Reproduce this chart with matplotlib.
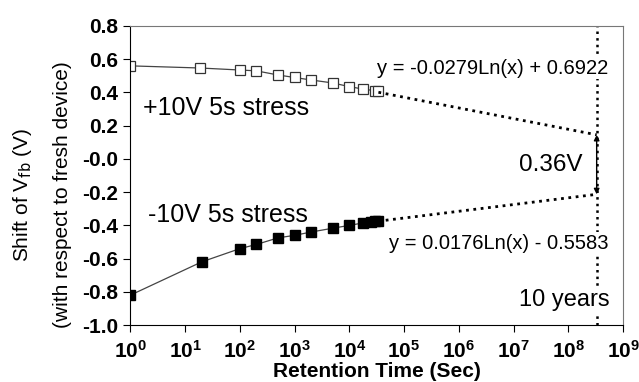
import matplotlib
matplotlib.use("Agg")
import matplotlib.pyplot as plt
import numpy as np

plt.rcParams['font.family'] = ['Liberation Sans', 'DejaVu Sans']

# +10V stress (open squares)
t_pos = [1, 19, 100, 200, 500, 1000, 2000, 5000, 10000, 18000, 30000, 34000]
v_pos = [0.56, 0.547, 0.535, 0.53, 0.505, 0.49, 0.475, 0.457, 0.435, 0.42, 0.41, 0.408]
# -10V stress (filled squares)
t_neg = [1, 20, 100, 200, 500, 1000, 2000, 5000, 10000, 18000, 25000, 30000, 34000]
v_neg = [-0.82, -0.62, -0.54, -0.515, -0.475, -0.46, -0.44, -0.417, -0.40, -0.385, -0.38, -0.375, -0.372]

# log fits from the figure
fit_pos = (-0.0279, 0.6922)
fit_neg = (0.0176, -0.5583)
t_10y = 3.3e8

fig = plt.figure(figsize=(6.39, 3.82), dpi=100)
ax = fig.add_axes([0.204, 0.149, 0.771, 0.783])

ax.plot(t_pos, v_pos, '-', color='#444444', lw=0.9, marker='s', ms=7,
        mfc='white', mec='#333333', mew=0.9)
ax.plot(t_neg, v_neg, '-', color='#444444', lw=0.9, marker='s', ms=7,
        mfc='black', mec='black')

# extrapolation
for t_data, (a, b) in [(t_pos, fit_pos), (t_neg, fit_neg)]:
    tt = np.array([t_data[-1], t_10y])
    ax.plot(tt, a * np.log(tt) + b, ':', color='black', lw=2)

y_top = fit_pos[0] * np.log(t_10y) + fit_pos[1]
y_bot = fit_neg[0] * np.log(t_10y) + fit_neg[1]
ax.plot([t_10y, t_10y], [-1.0, 0.8], ':', color='black', lw=1.8, zorder=1)
ax.annotate('', xy=(t_10y, y_top), xytext=(t_10y, y_bot),
            arrowprops=dict(arrowstyle='<|-|>', color='black', lw=1,
                            mutation_scale=8, shrinkA=0, shrinkB=0))

ax.text(1.7, 0.305, '+10V 5s stress', fontsize=18, va='center')
ax.text(2.1, -0.338, '-10V 5s stress', fontsize=18, va='center')
ax.text(5.3e8, 0.547, 'y = -0.0279Ln(x) + 0.6922', fontsize=14.5, ha='right', va='center',
        bbox=dict(fc='white', ec='none', pad=1))
ax.text(1.85e8, -0.037, '0.36V', fontsize=17.5, ha='right', va='center')
ax.text(5.5e8, -0.507, 'y = 0.0176Ln(x) - 0.5583', fontsize=14.5, ha='right', va='center',
        bbox=dict(fc='white', ec='none', pad=1))
ax.text(5.6e8, -0.85, '10 years', fontsize=17, ha='right', va='center',
        bbox=dict(fc='white', ec='none', pad=1))

ax.set_xscale('log')
ax.set_xlim(1, 1e9)
ax.set_ylim(-1.0, 0.8)
ax.set_xticks([10.0 ** k for k in range(10)])
ax.minorticks_off()
ax.set_yticks(np.arange(-1.0, 0.81, 0.2))
ax.set_yticklabels(['%.1f' % v for v in np.arange(-1.0, 0.81, 0.2)])
ax.tick_params(direction='out', length=5, labelsize=15, top=False, right=False)
ax.tick_params(axis='x', pad=6)
for lab in ax.get_xticklabels() + ax.get_yticklabels():
    lab.set_fontweight('bold')
for s in ['top', 'right']:
    ax.spines[s].set_color('#777777')

ax.set_xlabel('Retention Time (Sec)', fontsize=15, fontweight='bold', labelpad=0)
fig.text(0.035, 0.49, 'Shift of V$_{\\rm fb}$ (V)', rotation=90, fontsize=15,
         ha='center', va='center')
fig.text(0.098, 0.49, '(with respect to fresh device)', rotation=90, fontsize=15,
         ha='center', va='center')

fig.savefig('out.png', dpi=100)
